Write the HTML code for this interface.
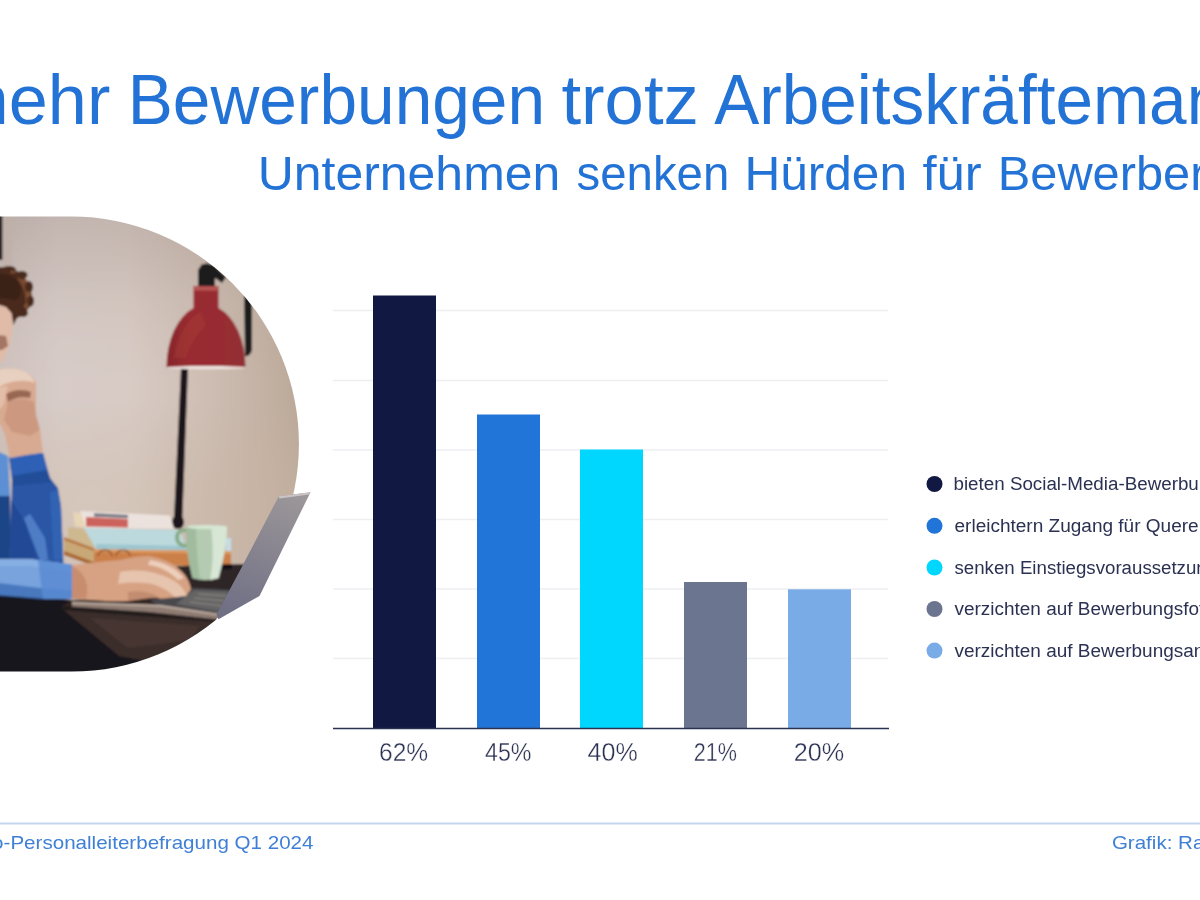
<!DOCTYPE html>
<html lang="de">
<head>
<meta charset="utf-8">
<title>Mehr Bewerbungen trotz Arbeitskräftemangel</title>
<style>
html,body{margin:0;padding:0;background:#fff;}
body{width:1200px;height:900px;overflow:hidden;position:relative;font-family:"Liberation Sans",sans-serif;}
svg{display:block;position:absolute;left:0;top:0;}
text{font-family:"Liberation Sans",sans-serif;}
.t1{font-size:70px;fill:#2373d6;}
.t2{font-size:48px;fill:#2373d6;}
.lab{font-size:25px;fill:#2b3152;stroke:#fff;stroke-width:.35px;}
.leg{font-size:18px;fill:#2b3152;}
.foot{font-size:19px;fill:#3f80d6;}
</style>
</head>
<body>
<svg width="1200" height="900" viewBox="0 0 1200 900">
<rect width="1200" height="900" fill="#ffffff"/>

<!-- TITLE -->
<g id="title">
<text class="t1" x="-49.7" y="123.6" textLength="160" lengthAdjust="spacingAndGlyphs">mehr</text>
<text class="t1" x="127.7" y="123.6" textLength="417.4" lengthAdjust="spacingAndGlyphs">Bewerbungen</text>
<text class="t1" x="561.5" y="123.6" textLength="137.3" lengthAdjust="spacingAndGlyphs">trotz</text>
<text class="t1" x="714.2" y="123.6" textLength="600" lengthAdjust="spacingAndGlyphs">Arbeitskräftemangel</text>
</g>
<g id="subtitle">
<text class="t2" x="257.7" y="190.1" textLength="302.6" lengthAdjust="spacingAndGlyphs">Unternehmen</text>
<text class="t2" x="576.5" y="190.1" textLength="152.8" lengthAdjust="spacingAndGlyphs">senken</text>
<text class="t2" x="744.4" y="190.1" textLength="162.6" lengthAdjust="spacingAndGlyphs">Hürden</text>
<text class="t2" x="922.5" y="190.1" textLength="59.2" lengthAdjust="spacingAndGlyphs">für</text>
<text class="t2" x="997.8" y="190.1" textLength="208.6" lengthAdjust="spacingAndGlyphs">Bewerber</text>
</g>

<!-- PHOTO -->
<g id="photo">
<defs>
<clipPath id="pill"><path d="M-10 216.6 H71.5 A227.5 227.5 0 0 1 71.5 671.6 H-10 Z"/></clipPath>
<linearGradient id="wall" gradientUnits="userSpaceOnUse" x1="0" x2="300" y1="0" y2="0">
<stop offset="0" stop-color="#cfc2be"/><stop offset="0.2" stop-color="#d8ccc8"/><stop offset="0.43" stop-color="#d8cbc5"/><stop offset="0.66" stop-color="#cfbfb5"/><stop offset="0.87" stop-color="#c4b2a5"/><stop offset="1" stop-color="#bba898"/>
</linearGradient>
<linearGradient id="wallv" gradientUnits="userSpaceOnUse" x1="0" x2="0" y1="216" y2="400">
<stop offset="0" stop-color="#6b5a50" stop-opacity="0.2"/><stop offset="0.24" stop-color="#6b5a50" stop-opacity="0.13"/><stop offset="0.46" stop-color="#6b5a50" stop-opacity="0.06"/><stop offset="0.68" stop-color="#6b5a50" stop-opacity="0.02"/><stop offset="0.9" stop-color="#6b5a50" stop-opacity="0"/>
</linearGradient>
<radialGradient id="walll" gradientUnits="userSpaceOnUse" cx="95" cy="505" r="95"><stop offset="0" stop-color="#e8e0d0" stop-opacity="0.15"/><stop offset="0.5" stop-color="#e8e0d0" stop-opacity="0.09"/><stop offset="1" stop-color="#e8e0d0" stop-opacity="0"/></radialGradient>
<linearGradient id="wallw" gradientUnits="userSpaceOnUse" x1="0" x2="0" y1="400" y2="560"><stop offset="0" stop-color="#c9b5a3" stop-opacity="0"/><stop offset="0.5" stop-color="#c9b5a3" stop-opacity="0.38"/><stop offset="1" stop-color="#c9b5a3" stop-opacity="0.5"/></linearGradient>
<linearGradient id="shade" x1="0" x2="1" y1="0" y2="0">
<stop offset="0" stop-color="#88262b"/><stop offset="0.3" stop-color="#992b30"/><stop offset="0.7" stop-color="#972c32"/><stop offset="1" stop-color="#923035"/>
</linearGradient>
<linearGradient id="lap" gradientUnits="userSpaceOnUse" x1="290" x2="240" y1="494" y2="618">
<stop offset="0" stop-color="#9b9699"/><stop offset="0.5" stop-color="#86838f"/><stop offset="1" stop-color="#6f6f85"/>
</linearGradient>
<linearGradient id="desk" x1="0" x2="0" y1="0" y2="1">
<stop offset="0" stop-color="#3a2b29"/><stop offset="1" stop-color="#1c1617"/>
</linearGradient>
<filter id="soft" x="-5%" y="-5%" width="110%" height="110%"><feGaussianBlur stdDeviation="0.9"/></filter>
<filter id="soft2" x="-5%" y="-5%" width="110%" height="110%"><feGaussianBlur stdDeviation="0.45"/></filter>
</defs>
<g clip-path="url(#pill)">
<g filter="url(#soft)">
<rect x="-10" y="210" width="320" height="470" fill="url(#wall)"/>
<rect x="-10" y="210" width="320" height="470" fill="url(#wallv)"/>
<rect x="-10" y="400" width="320" height="210" fill="url(#wallw)"/>
<rect x="-10" y="380" width="320" height="230" fill="url(#walll)"/>
<!-- dark strip top-left -->
<rect x="-2" y="214" width="4.5" height="46" fill="#1d1a1c"/>
<rect x="2.5" y="214" width="10" height="60" fill="#bfb0a8" opacity="0.6"/>
<!-- lamp arm (rear) -->
<path d="M205 263 L214 265 L226 277 L222 283 L208 273 Z" fill="#1b1a1d"/>
<path d="M244 294 L252 298 L252 350 Q250 357 245 356 Z" fill="#1d1b1e"/>
<!-- lamp pole -->
<path d="M181 368 L188 368 L182 528 L173.500 528 Z" fill="#1a191b"/>
<ellipse cx="178" cy="522" rx="6" ry="7" fill="#1a191b"/>
<!-- lamp cap -->
<path d="M198 287 L198 270 L202 264 L211 264 L215 270 L215 287 Z" fill="#1b1a1d"/>
<!-- lamp shade -->
<path d="M193.5 286 L218.5 286 L218.5 308 A39.5 62.2 0 0 1 245.5 367.3 L166.5 367.3 A39.5 62.2 0 0 1 193.5 308 Z" fill="url(#shade)"/>
<path d="M186 326 C190 319 196 314 201 312 L206 326 C198 332 190 344 186 358 L174 358 C175 346 180 334 186 326 Z" fill="#c0503f" opacity="0.2"/>
<rect x="194" y="286.5" width="24" height="4" fill="#d07a72" opacity="0.55"/>
<ellipse cx="206.5" cy="367.6" rx="39.5" ry="1.6" fill="#efe3df"/>
<!-- books -->
<!-- bottom book -->
<path d="M64 538 L94 549 L94 564 L64 553 Z" fill="#c9a877"/>
<path d="M64 537 L94 548 L94 551 L64 540 Z" fill="#b8763f"/>
<path d="M64 551 L94 562 L94 566 L64 555 Z" fill="#a9662f"/>
<path d="M94 549 L231 551 L231 566 L94 565 Z" fill="#cb7f48"/>
<path d="M94 549 L231 551 L231 554 L94 552 Z" fill="#dc9a62"/>
<path d="M98 556 a7 6 0 1 1 14 0 M116 556 a7 6 0 1 1 14 0" stroke="#8a4d26" stroke-width="1.3" fill="none"/>
<!-- middle book -->
<path d="M68 527 L84 529 L96 549 L68 538 Z" fill="#cdb88f"/>
<path d="M84 528 L180 530 L187 550 L96 549 Z" fill="#bcd9de"/>
<path d="M96 544 L187 546 L187 550 L96 549 Z" fill="#9ec6cf"/>
<path d="M226 538 L231 538 L231 551 L226 551 Z" fill="#c4dde6"/>
<!-- top book -->
<path d="M73 512 L86 514 L86 528 L75 526 Z" fill="#e8d5b5"/>
<path d="M80 511 L170 515.500 L174 529 L86 528 Z" fill="#ece2dd"/>
<path d="M86 517 L128 519 L128 527.500 L86 526.500 Z" fill="#cc625c"/>
<path d="M94 513.200 L128 515 L128 518 L94 516.500 Z" fill="#4d5366" opacity="0.8"/>
<!-- desk -->
<path d="M-10 594 L72 600 L150 596 L150 570 L182 566 L250 564 L320 564 L320 690 L-10 690 Z" fill="url(#desk)"/>
<path d="M-10 594 L72 600 L60 607 L119 656 L150 662 L150 690 L-10 690 Z" fill="#17131a"/>
<path d="M60 607 L218 619 L232 640 L150 662 L119 656 Z" fill="#3b2d2b"/>
<path d="M90 618 L200 626 L190 640 L128 648 Z" fill="#4b3a36" opacity="0.7"/>
<path d="M60 606 L218 618 L218 622 L60 610 Z" fill="#1e1819" opacity="0.8"/>
<path d="M150 570 L182 566 L250 564 L232 600 L150 600 Z" fill="#2d2526"/>
<path d="M214 565 L232 564 L232 569 L214 570 Z" fill="#121012"/>
<!-- mug -->
<path d="M175 537 a8.500 8.500 0 0 1 13 -7 l0 4 a5 5 0 0 0 -9 3 a6 6 0 0 0 9 6 l0 4 a10 10 0 0 1 -13 -10 Z" fill="#86ab83"/>
<path d="M186 526.500 L227 526.500 C227 545 222 565 218.500 578 Q205 582 192.500 578 C188.500 562 186 545 186 526.500 Z" fill="#b4cbb1"/>
<path d="M186 526.500 L196 526.500 C196 545 198 565 200 579.500 L192.500 578 C188.500 562 186 545 186 526.500 Z" fill="#a0bb9d"/>
<path d="M211 526.500 L227 526.500 C227 545 222 565 218.500 578 L210 580 C214 560 213 545 211 526.500 Z" fill="#d8e6d6"/>
<ellipse cx="206.500" cy="527" rx="20" ry="2" fill="#d5e7d3"/>
<!-- shirt body -->
<path d="M-10 448 L8 456 L10 496 L-10 496 Z" fill="#5b8fd3"/>
<path d="M-10 496 L10 496 L12 562 L-10 562 Z" fill="#1f4587"/>
<!-- upper arm -->
<path d="M9 457 L43 453 L50 478 L58 488 L61 506 L63.500 564 L10 562 L11 520 L12 480 Z" fill="#2a57a5"/>
<path d="M9 457 L43 453 L47 470 L12 476 Z" fill="#2e61b6"/>
<path d="M12 476 L47 470 L50 478 L52 482 L12 486 Z" fill="#244d98"/>
<path d="M24 518 L30 514 L45 538 L48 560 L40 560 Z" fill="#5d8ad0" opacity="0.75"/>
<path d="M50 492 L58 490 L61 506 L63 560 L54 560 Z" fill="#3566b6" opacity="0.8"/>
<path d="M11 500 L24 520 L38 560 L11 562 Z" fill="#1d4690" opacity="0.75"/>
<!-- forearm -->
<path d="M-10 559 L30 559 L72 564.500 L73 598 L40 598 L-10 594 Z" fill="#78a3dd"/>
<path d="M-10 559 L30 559 L72 564.500 L72 572 L30 566 L-10 566 Z" fill="#86afe3"/>
<path d="M-10 582 L40 588 L73 590 L73 599 L40 599 L-10 595 Z" fill="#3c6db8" opacity="0.8"/>
<path d="M38 560 L72 564.500 L73 599 L43 599 Z" fill="#5a8bd2" opacity="0.85"/>
<!-- hand on keyboard -->
<path d="M72 565 C90 563 105 561 120 560 C132 558 142 555 152 556.500 C166 559 178 566 185 575 C190 582 192 590 191 597 C190 602 186 606 181 606.500 C172 604 165 600 158 598 C148 597 140 600 128 601 C108 602 90 600 72 598.500 Z" fill="#d6a283"/>
<path d="M120 572 C140 568 160 572 176 582 C184 588 188 596 188 603 L181 606.500 C176 596 166 588 152 584 C140 582 128 582 118 584 Z" fill="#e7c4ae"/>
<path d="M150 560 C164 562 176 568 184 578 L178 580 C170 572 160 566 148 565 Z" fill="#efd4c2" opacity="0.9"/>
<path d="M72 566 C84 572 90 584 86 598.500 L72 598.500 Z" fill="#c48a6b" opacity="0.85"/>
<path d="M128 592 C140 590 152 592 160 598 C150 597 140 600 128 601 Z" fill="#b9836a" opacity="0.7"/>
<!-- laptop base + keyboard -->
<path d="M150 600 L186 596 L192 588 L231 590 L221 614 L160 607 Z" fill="#4a494d"/>
<path d="M194 590 L229 591.500 L220 612 L176 604 Z" fill="#6a6967" opacity="0.85"/>
<path d="M198 594 L227 596 M194 598 L225 601 M190 602 L223 606" stroke="#a9a7a2" stroke-width="1.200" opacity="0.6" fill="none"/>
<path d="M72 602 L160 605 L219.500 614 L218.500 619.500 L150 612 L72 606.500 Z" fill="#8f7d73"/>
<path d="M72 602 L160 605 L219.500 614 L219.200 615.600 L160 606.800 L72 603.600 Z" fill="#c4b3a7"/>
<!-- head/hair -->
<path d="M-10 300 L8 304 L12 312 L12.500 330 L10 345 L7 352 L2 362 L-10 364 Z" fill="#dfbba8"/>
<path d="M-10 334 L6 336 L8 346 L2 350 L-10 350 Z" fill="#8f5f4c" opacity="0.75"/>
<path d="M-10 270 C-2 266.500 8 266 14 269.500 C22 272 28 280 31 291 C33 299 32.500 305 28 309 C25 313 21 317 17 318 L13.500 325 L11.500 313 L6 307 L-10 302 Z" fill="#4a2a1d"/>
<path d="M-10 276 C0 272 12 274 18 282 C22 288 22 296 16 300 L-10 296 Z" fill="#3a2017"/>
<path d="M16 272 C24 276 29 284 30.500 294 C31 300 29 306 25 309 C27 300 25 288 18 280 Z" fill="#7c4c32" opacity="0.85"/>
<g fill="#4a2a1d"><ellipse cx="9" cy="269.500" rx="7" ry="3.500"/><ellipse cx="22" cy="275" rx="5.500" ry="4"/><ellipse cx="29" cy="287" rx="4" ry="6"/><ellipse cx="30.500" cy="301" rx="3.500" ry="5.500"/><ellipse cx="23" cy="313" rx="5" ry="4"/></g>
<g fill="#8a5738" opacity="0.75"><ellipse cx="25" cy="281" rx="2.500" ry="1.500"/><ellipse cx="28.500" cy="294" rx="1.600" ry="3"/><ellipse cx="26" cy="306" rx="2" ry="2.500"/><ellipse cx="13" cy="272" rx="3" ry="1.400"/></g>
<!-- hand at chin -->
<path d="M-10 374 C-2 369 8 367 18 369.500 C26 371 33 376 36 382 L36 415 L40 430 L43 452 L10 458 L5 435 L0 424 L-10 418 Z" fill="#d8aa91"/>
<path d="M-10 374 C-2 369 8 367 18 369.500 C26 371 33 376 35 383 C28 380 18 380 8 383 C2 385 -4 388 -10 392 Z" fill="#e8d0c0"/>
<path d="M6 394 C14 389 24 389 31 392 L30 398 C22 396 14 398 8 402 Z" fill="#8e5a48" opacity="0.85"/>
<path d="M-10 392 C-4 388 2 386 8 386 L4 404 C0 410 -4 412 -10 412 Z" fill="#e3bda8"/>
<path d="M8 402 C16 398 26 398 34 402 L36 415 L40 430 L30 436 L12 432 L4 420 Z" fill="#c9957c" opacity="0.8"/>
</g>
</g>
<!-- laptop screen (outside clip) -->
<path d="M308 490 L257.500 595 L216.500 618.600 L225 650 L324 650 L324 490 Z" fill="#fff"/>
<g filter="url(#soft2)">
<path d="M278.800 496.200 L310.500 492.200 L259.500 596 L218.500 619.300 L216.500 614.500 L229.800 589.500 L242.200 566.200 Z" fill="url(#lap)"/>
<path d="M278.800 496.200 L310.500 492.200 L309.300 494.600 L279.300 498.600 Z" fill="#c9c3c4"/>
</g>
</g>

<!-- CHART -->
<g id="chart">
<g stroke="#edeff3" stroke-width="1.3">
<line x1="333" x2="888" y1="310.5" y2="310.5"/>
<line x1="333" x2="888" y1="380.5" y2="380.5"/>
<line x1="333" x2="888" y1="450" y2="450"/>
<line x1="333" x2="888" y1="519.5" y2="519.5"/>
<line x1="333" x2="888" y1="589" y2="589"/>
<line x1="333" x2="888" y1="658.5" y2="658.5"/>
</g>
<rect x="373" y="295.5" width="63" height="433" fill="#111942"/>
<rect x="477" y="414.5" width="63" height="314" fill="#2175d9"/>
<rect x="580" y="449.5" width="63" height="279" fill="#00d7ff"/>
<rect x="684" y="582" width="63" height="146.5" fill="#6c7590"/>
<rect x="788" y="589.3" width="63" height="139.2" fill="#79abe6"/>
<line x1="333" x2="889" y1="728.5" y2="728.5" stroke="#2b3152" stroke-width="1.5"/>
<g class="lab">
<text x="379" y="760.5" textLength="49.2" lengthAdjust="spacingAndGlyphs">62%</text>
<text x="485" y="760.5" textLength="46.5" lengthAdjust="spacingAndGlyphs">45%</text>
<text x="587.5" y="760.5" textLength="50.2" lengthAdjust="spacingAndGlyphs">40%</text>
<text x="693.8" y="760.5" textLength="43.2" lengthAdjust="spacingAndGlyphs">21%</text>
<text x="793.7" y="760.5" textLength="50.5" lengthAdjust="spacingAndGlyphs">20%</text>
</g>
</g>

<!-- LEGEND -->
<g id="legend">
<circle cx="934.5" cy="484" r="8" fill="#111942"/>
<circle cx="934.5" cy="525.8" r="8" fill="#2175d9"/>
<circle cx="934.5" cy="567.5" r="8" fill="#00d7ff"/>
<circle cx="934.5" cy="609" r="8" fill="#6c7590"/>
<circle cx="934.5" cy="650.6" r="8" fill="#79abe6"/>
<g class="leg">
<text x="953.5" y="490.3" textLength="313.2" lengthAdjust="spacingAndGlyphs">bieten Social-Media-Bewerbungen an</text>
<text x="954.5" y="531.9" textLength="316" lengthAdjust="spacingAndGlyphs">erleichtern Zugang für Quereinsteiger</text>
<text x="954.5" y="573.7" textLength="283.4" lengthAdjust="spacingAndGlyphs">senken Einstiegsvoraussetzungen</text>
<text x="954.5" y="615.3" textLength="260.3" lengthAdjust="spacingAndGlyphs">verzichten auf Bewerbungsfoto</text>
<text x="954.5" y="656.9" textLength="332" lengthAdjust="spacingAndGlyphs">verzichten auf Bewerbungsanschreiben</text>
</g>
</g>

<!-- FOOTER -->
<g id="footer">
<line x1="0" x2="1200" y1="823.5" y2="823.5" stroke="#c4d6ee" stroke-width="2"/>
<text class="foot" x="-184" y="849.3" textLength="497.5" lengthAdjust="spacingAndGlyphs">Quelle: Randstad-ifo-Personalleiterbefragung Q1 2024</text>
<text class="foot" x="1111.9" y="849.3" textLength="154.1" lengthAdjust="spacingAndGlyphs">Grafik: Randstad</text>
</g>
</svg>
</body>
</html>
